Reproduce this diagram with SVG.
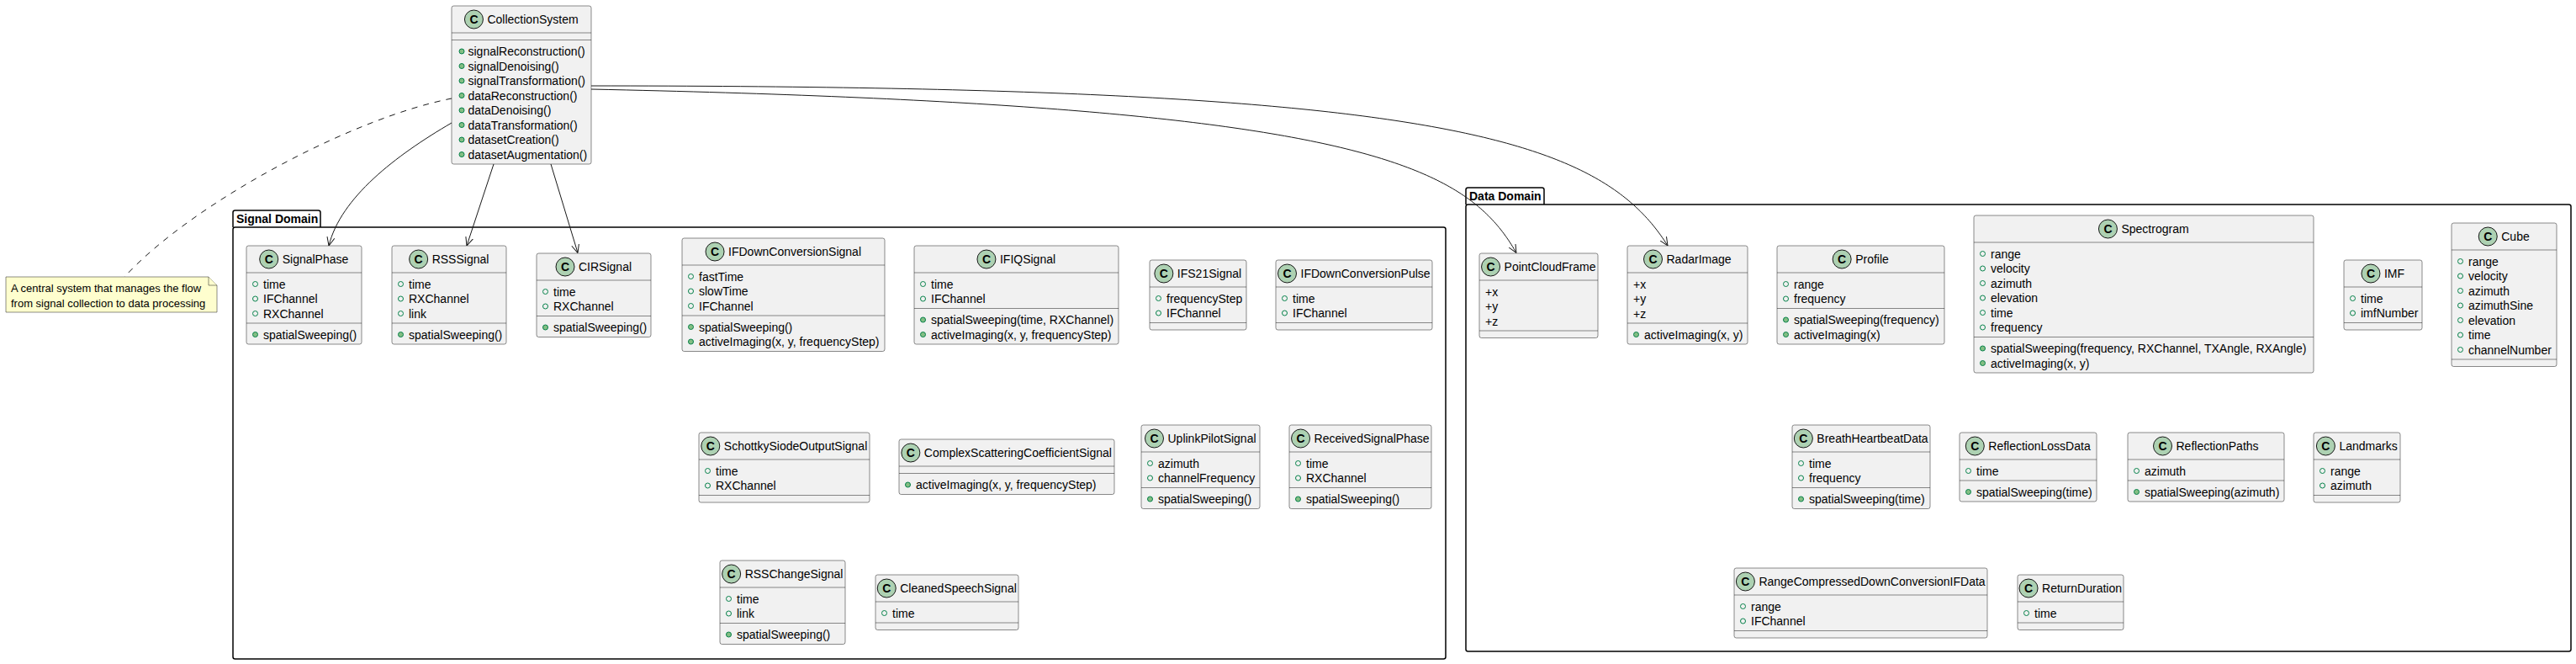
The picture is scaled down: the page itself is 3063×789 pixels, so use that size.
<svg xmlns="http://www.w3.org/2000/svg" width="3063" height="789" viewBox="0 0 3063 789">
<defs>
<style>
text{font-family:"Liberation Sans",Arial,sans-serif;font-size:14px;fill:#000}
.box{fill:#F1F1F1;stroke:#181818;stroke-width:0.5}
.sep{stroke:#181818;stroke-width:0.5}
.ci{fill:#ADD1B2;stroke:#181818;stroke-width:1}
.cc{font-weight:bold;text-anchor:middle}
.a{fill:none;stroke:#038048;stroke-width:1}
.m{fill:#84BE84;stroke:#038048;stroke-width:1}
.pkg{fill:none;stroke:#000;stroke-width:1.5}
.pl{font-weight:bold}
.edge{fill:none;stroke:#181818;stroke-width:1}
.note{fill:#FEFECE;stroke:#181818;stroke-width:0.5}
.nt{font-size:13px}
</style>
<marker id="arr" viewBox="0 0 10 10" refX="10" refY="5" markerWidth="10" markerHeight="10" markerUnits="userSpaceOnUse" orient="auto">
<path d="M0,0.5 L10,5 L0,9.5" fill="none" stroke="#181818" stroke-width="1"/>
</marker>
</defs>
<rect width="3063" height="789" fill="#FFFFFF"/>

<g id="pkg-signal">
<path class="pkg" d="M277,270 V252.5 Q277,250 279.5,250 H378.5 Q381,250 381,252.5 V270"/>
<rect class="pkg" x="277" y="270" width="1442" height="513" rx="2.5"/>
<text class="pl" x="281" y="265">Signal Domain</text>
</g>
<g id="pkg-data">
<path class="pkg" d="M1743,243 V225.5 Q1743,223 1745.5,223 H1833.5 Q1836,223 1836,225.5 V243"/>
<rect class="pkg" x="1743" y="243" width="1314" height="531" rx="2.5"/>
<text class="pl" x="1747" y="238">Data Domain</text>
</g>

<g id="CollectionSystem">
<rect class="box" x="537" y="7" width="166" height="188" rx="2.5"/>
<circle class="ci" cx="563.45" cy="23" r="11"/><text class="cc" x="563.45" y="28">C</text>
<text x="579.45" y="28">CollectionSystem</text>
<line class="sep" x1="537" y1="39" x2="703" y2="39"/><line class="sep" x1="537" y1="47.5" x2="703" y2="47.5"/>
<circle class="m" cx="549" cy="61" r="3"/><text x="556.5" y="66">signalReconstruction()</text>
<circle class="m" cx="549" cy="78.5" r="3"/><text x="556.5" y="83.5">signalDenoising()</text>
<circle class="m" cx="549" cy="96" r="3"/><text x="556.5" y="101">signalTransformation()</text>
<circle class="m" cx="549" cy="113.5" r="3"/><text x="556.5" y="118.5">dataReconstruction()</text>
<circle class="m" cx="549" cy="131" r="3"/><text x="556.5" y="136">dataDenoising()</text>
<circle class="m" cx="549" cy="148.5" r="3"/><text x="556.5" y="153.5">dataTransformation()</text>
<circle class="m" cx="549" cy="166" r="3"/><text x="556.5" y="171">datasetCreation()</text>
<circle class="m" cx="549" cy="183.5" r="3"/><text x="556.5" y="188.5">datasetAugmentation()</text>
</g>

<g id="note">
<path class="note" d="M7,329 H248 L258,339 V371 H7 Z"/>
<path class="note" d="M248,329 V339 H258"/>
<text class="nt" x="13" y="347">A central system that manages the flow</text>
<text class="nt" x="13" y="364.5">from signal collection to data processing</text>
</g>

<g id="SignalPhase">
<rect class="box" x="293" y="292" width="137" height="117" rx="2.5"/>
<circle class="ci" cx="319.7" cy="308" r="11"/><text class="cc" x="319.7" y="313">C</text>
<text x="335.7" y="313">SignalPhase</text>
<line class="sep" x1="293" y1="324" x2="430" y2="324"/><line class="sep" x1="293" y1="384" x2="430" y2="384"/>
<circle class="a" cx="303.5" cy="337.5" r="3"/><text x="313" y="342.5">time</text>
<circle class="a" cx="303.5" cy="355" r="3"/><text x="313" y="360">IFChannel</text>
<circle class="a" cx="303.5" cy="372.5" r="3"/><text x="313" y="377.5">RXChannel</text>
<circle class="m" cx="303.5" cy="397.5" r="3"/><text x="313" y="402.5">spatialSweeping()</text>
</g>

<g id="RSSSignal">
<rect class="box" x="466" y="292" width="136" height="117" rx="2.5"/>
<circle class="ci" cx="497.65" cy="308" r="11"/><text class="cc" x="497.65" y="313">C</text>
<text x="513.65" y="313">RSSSignal</text>
<line class="sep" x1="466" y1="324" x2="602" y2="324"/><line class="sep" x1="466" y1="384" x2="602" y2="384"/>
<circle class="a" cx="476.5" cy="337.5" r="3"/><text x="486" y="342.5">time</text>
<circle class="a" cx="476.5" cy="355" r="3"/><text x="486" y="360">RXChannel</text>
<circle class="a" cx="476.5" cy="372.5" r="3"/><text x="486" y="377.5">link</text>
<circle class="m" cx="476.5" cy="397.5" r="3"/><text x="486" y="402.5">spatialSweeping()</text>
</g>

<g id="CIRSignal">
<rect class="box" x="638" y="301" width="136" height="99.5" rx="2.5"/>
<circle class="ci" cx="672" cy="317" r="11"/><text class="cc" x="672" y="322">C</text>
<text x="688" y="322">CIRSignal</text>
<line class="sep" x1="638" y1="333" x2="774" y2="333"/><line class="sep" x1="638" y1="375.5" x2="774" y2="375.5"/>
<circle class="a" cx="648.5" cy="346.5" r="3"/><text x="658" y="351.5">time</text>
<circle class="a" cx="648.5" cy="364" r="3"/><text x="658" y="369">RXChannel</text>
<circle class="m" cx="648.5" cy="389" r="3"/><text x="658" y="394">spatialSweeping()</text>
</g>

<g id="IFDownConversionSignal">
<rect class="box" x="811" y="283" width="241" height="134.5" rx="2.5"/>
<circle class="ci" cx="850.05" cy="299" r="11"/><text class="cc" x="850.05" y="304">C</text>
<text x="866.05" y="304">IFDownConversionSignal</text>
<line class="sep" x1="811" y1="315" x2="1052" y2="315"/><line class="sep" x1="811" y1="375" x2="1052" y2="375"/>
<circle class="a" cx="821.5" cy="328.5" r="3"/><text x="831" y="333.5">fastTime</text>
<circle class="a" cx="821.5" cy="346" r="3"/><text x="831" y="351">slowTime</text>
<circle class="a" cx="821.5" cy="363.5" r="3"/><text x="831" y="368.5">IFChannel</text>
<circle class="m" cx="821.5" cy="388.5" r="3"/><text x="831" y="393.5">spatialSweeping()</text>
<circle class="m" cx="821.5" cy="406" r="3"/><text x="831" y="411">activeImaging(x, y, frequencyStep)</text>
</g>

<g id="IFIQSignal">
<rect class="box" x="1087" y="292" width="243" height="117" rx="2.5"/>
<circle class="ci" cx="1172.95" cy="308" r="11"/><text class="cc" x="1172.95" y="313">C</text>
<text x="1188.95" y="313">IFIQSignal</text>
<line class="sep" x1="1087" y1="324" x2="1330" y2="324"/><line class="sep" x1="1087" y1="366.5" x2="1330" y2="366.5"/>
<circle class="a" cx="1097.5" cy="337.5" r="3"/><text x="1107" y="342.5">time</text>
<circle class="a" cx="1097.5" cy="355" r="3"/><text x="1107" y="360">IFChannel</text>
<circle class="m" cx="1097.5" cy="380" r="3"/><text x="1107" y="385">spatialSweeping(time, RXChannel)</text>
<circle class="m" cx="1097.5" cy="397.5" r="3"/><text x="1107" y="402.5">activeImaging(x, y, frequencyStep)</text>
</g>

<g id="IFS21Signal">
<rect class="box" x="1367" y="309" width="115" height="83" rx="2.5"/>
<circle class="ci" cx="1383.85" cy="325" r="11"/><text class="cc" x="1383.85" y="330">C</text>
<text x="1399.85" y="330">IFS21Signal</text>
<line class="sep" x1="1367" y1="341" x2="1482" y2="341"/><line class="sep" x1="1367" y1="383.5" x2="1482" y2="383.5"/>
<circle class="a" cx="1377.5" cy="354.5" r="3"/><text x="1387" y="359.5">frequencyStep</text>
<circle class="a" cx="1377.5" cy="372" r="3"/><text x="1387" y="377">IFChannel</text>
</g>

<g id="IFDownConversionPulse">
<rect class="box" x="1517" y="309" width="186" height="83" rx="2.5"/>
<circle class="ci" cx="1530.5" cy="325" r="11"/><text class="cc" x="1530.5" y="330">C</text>
<text x="1546.5" y="330">IFDownConversionPulse</text>
<line class="sep" x1="1517" y1="341" x2="1703" y2="341"/><line class="sep" x1="1517" y1="383.5" x2="1703" y2="383.5"/>
<circle class="a" cx="1527.5" cy="354.5" r="3"/><text x="1537" y="359.5">time</text>
<circle class="a" cx="1527.5" cy="372" r="3"/><text x="1537" y="377">IFChannel</text>
</g>

<g id="SchottkySiodeOutputSignal">
<rect class="box" x="831" y="514" width="203" height="83" rx="2.5"/>
<circle class="ci" cx="844.8" cy="530" r="11"/><text class="cc" x="844.8" y="535">C</text>
<text x="860.8" y="535">SchottkySiodeOutputSignal</text>
<line class="sep" x1="831" y1="546" x2="1034" y2="546"/><line class="sep" x1="831" y1="588.5" x2="1034" y2="588.5"/>
<circle class="a" cx="841.5" cy="559.5" r="3"/><text x="851" y="564.5">time</text>
<circle class="a" cx="841.5" cy="577" r="3"/><text x="851" y="582">RXChannel</text>
</g>

<g id="ComplexScatteringCoefficientSignal">
<rect class="box" x="1069" y="522" width="256" height="65.5" rx="2.5"/>
<circle class="ci" cx="1082.85" cy="538" r="11"/><text class="cc" x="1082.85" y="543">C</text>
<text x="1098.85" y="543">ComplexScatteringCoefficientSignal</text>
<line class="sep" x1="1069" y1="554" x2="1325" y2="554"/><line class="sep" x1="1069" y1="562.5" x2="1325" y2="562.5"/>
<circle class="m" cx="1079.5" cy="576" r="3"/><text x="1089" y="581">activeImaging(x, y, frequencyStep)</text>
</g>

<g id="UplinkPilotSignal">
<rect class="box" x="1357" y="505" width="141" height="99.5" rx="2.5"/>
<circle class="ci" cx="1372.5" cy="521" r="11"/><text class="cc" x="1372.5" y="526">C</text>
<text x="1388.5" y="526">UplinkPilotSignal</text>
<line class="sep" x1="1357" y1="537" x2="1498" y2="537"/><line class="sep" x1="1357" y1="579.5" x2="1498" y2="579.5"/>
<circle class="a" cx="1367.5" cy="550.5" r="3"/><text x="1377" y="555.5">azimuth</text>
<circle class="a" cx="1367.5" cy="568" r="3"/><text x="1377" y="573">channelFrequency</text>
<circle class="m" cx="1367.5" cy="593" r="3"/><text x="1377" y="598">spatialSweeping()</text>
</g>

<g id="ReceivedSignalPhase">
<rect class="box" x="1533" y="505" width="169" height="99.5" rx="2.5"/>
<circle class="ci" cx="1546.55" cy="521" r="11"/><text class="cc" x="1546.55" y="526">C</text>
<text x="1562.55" y="526">ReceivedSignalPhase</text>
<line class="sep" x1="1533" y1="537" x2="1702" y2="537"/><line class="sep" x1="1533" y1="579.5" x2="1702" y2="579.5"/>
<circle class="a" cx="1543.5" cy="550.5" r="3"/><text x="1553" y="555.5">time</text>
<circle class="a" cx="1543.5" cy="568" r="3"/><text x="1553" y="573">RXChannel</text>
<circle class="m" cx="1543.5" cy="593" r="3"/><text x="1553" y="598">spatialSweeping()</text>
</g>

<g id="RSSChangeSignal">
<rect class="box" x="856" y="666" width="149" height="99.5" rx="2.5"/>
<circle class="ci" cx="869.65" cy="682" r="11"/><text class="cc" x="869.65" y="687">C</text>
<text x="885.65" y="687">RSSChangeSignal</text>
<line class="sep" x1="856" y1="698" x2="1005" y2="698"/><line class="sep" x1="856" y1="740.5" x2="1005" y2="740.5"/>
<circle class="a" cx="866.5" cy="711.5" r="3"/><text x="876" y="716.5">time</text>
<circle class="a" cx="866.5" cy="729" r="3"/><text x="876" y="734">link</text>
<circle class="m" cx="866.5" cy="754" r="3"/><text x="876" y="759">spatialSweeping()</text>
</g>

<g id="CleanedSpeechSignal">
<rect class="box" x="1041" y="683" width="170" height="65.5" rx="2.5"/>
<circle class="ci" cx="1054.25" cy="699" r="11"/><text class="cc" x="1054.25" y="704">C</text>
<text x="1070.25" y="704">CleanedSpeechSignal</text>
<line class="sep" x1="1041" y1="715" x2="1211" y2="715"/><line class="sep" x1="1041" y1="740" x2="1211" y2="740"/>
<circle class="a" cx="1051.5" cy="728.5" r="3"/><text x="1061" y="733.5">time</text>
</g>

<g id="PointCloudFrame">
<rect class="box" x="1759" y="301" width="141" height="100.5" rx="2.5"/>
<circle class="ci" cx="1772.55" cy="317" r="11"/><text class="cc" x="1772.55" y="322">C</text>
<text x="1788.55" y="322">PointCloudFrame</text>
<line class="sep" x1="1759" y1="333" x2="1900" y2="333"/><line class="sep" x1="1759" y1="393" x2="1900" y2="393"/>
<text x="1766" y="351.5">+x</text>
<text x="1766" y="369">+y</text>
<text x="1766" y="386.5">+z</text>
</g>

<g id="RadarImage">
<rect class="box" x="1935" y="292" width="143" height="117" rx="2.5"/>
<circle class="ci" cx="1965.5" cy="308" r="11"/><text class="cc" x="1965.5" y="313">C</text>
<text x="1981.5" y="313">RadarImage</text>
<line class="sep" x1="1935" y1="324" x2="2078" y2="324"/><line class="sep" x1="1935" y1="384" x2="2078" y2="384"/>
<text x="1942" y="342.5">+x</text>
<text x="1942" y="360">+y</text>
<text x="1942" y="377.5">+z</text>
<circle class="m" cx="1945.5" cy="397.5" r="3"/><text x="1955" y="402.5">activeImaging(x, y)</text>
</g>

<g id="Profile">
<rect class="box" x="2113" y="292" width="199" height="117" rx="2.5"/>
<circle class="ci" cx="2190.15" cy="308" r="11"/><text class="cc" x="2190.15" y="313">C</text>
<text x="2206.15" y="313">Profile</text>
<line class="sep" x1="2113" y1="324" x2="2312" y2="324"/><line class="sep" x1="2113" y1="366.5" x2="2312" y2="366.5"/>
<circle class="a" cx="2123.5" cy="337.5" r="3"/><text x="2133" y="342.5">range</text>
<circle class="a" cx="2123.5" cy="355" r="3"/><text x="2133" y="360">frequency</text>
<circle class="m" cx="2123.5" cy="380" r="3"/><text x="2133" y="385">spatialSweeping(frequency)</text>
<circle class="m" cx="2123.5" cy="397.5" r="3"/><text x="2133" y="402.5">activeImaging(x)</text>
</g>

<g id="Spectrogram">
<rect class="box" x="2347" y="256" width="404" height="187" rx="2.5"/>
<circle class="ci" cx="2506.45" cy="272" r="11"/><text class="cc" x="2506.45" y="277">C</text>
<text x="2522.45" y="277">Spectrogram</text>
<line class="sep" x1="2347" y1="288" x2="2751" y2="288"/><line class="sep" x1="2347" y1="400.5" x2="2751" y2="400.5"/>
<circle class="a" cx="2357.5" cy="301.5" r="3"/><text x="2367" y="306.5">range</text>
<circle class="a" cx="2357.5" cy="319" r="3"/><text x="2367" y="324">velocity</text>
<circle class="a" cx="2357.5" cy="336.5" r="3"/><text x="2367" y="341.5">azimuth</text>
<circle class="a" cx="2357.5" cy="354" r="3"/><text x="2367" y="359">elevation</text>
<circle class="a" cx="2357.5" cy="371.5" r="3"/><text x="2367" y="376.5">time</text>
<circle class="a" cx="2357.5" cy="389" r="3"/><text x="2367" y="394">frequency</text>
<circle class="m" cx="2357.5" cy="414" r="3"/><text x="2367" y="419">spatialSweeping(frequency, RXChannel, TXAngle, RXAngle)</text>
<circle class="m" cx="2357.5" cy="431.5" r="3"/><text x="2367" y="436.5">activeImaging(x, y)</text>
</g>

<g id="IMF">
<rect class="box" x="2787" y="309" width="93" height="83" rx="2.5"/>
<circle class="ci" cx="2818.95" cy="325" r="11"/><text class="cc" x="2818.95" y="330">C</text>
<text x="2834.95" y="330">IMF</text>
<line class="sep" x1="2787" y1="341" x2="2880" y2="341"/><line class="sep" x1="2787" y1="383.5" x2="2880" y2="383.5"/>
<circle class="a" cx="2797.5" cy="354.5" r="3"/><text x="2807" y="359.5">time</text>
<circle class="a" cx="2797.5" cy="372" r="3"/><text x="2807" y="377">imfNumber</text>
</g>

<g id="Cube">
<rect class="box" x="2915" y="265" width="125" height="170.5" rx="2.5"/>
<circle class="ci" cx="2958.25" cy="281" r="11"/><text class="cc" x="2958.25" y="286">C</text>
<text x="2974.25" y="286">Cube</text>
<line class="sep" x1="2915" y1="297" x2="3040" y2="297"/><line class="sep" x1="2915" y1="427" x2="3040" y2="427"/>
<circle class="a" cx="2925.5" cy="310.5" r="3"/><text x="2935" y="315.5">range</text>
<circle class="a" cx="2925.5" cy="328" r="3"/><text x="2935" y="333">velocity</text>
<circle class="a" cx="2925.5" cy="345.5" r="3"/><text x="2935" y="350.5">azimuth</text>
<circle class="a" cx="2925.5" cy="363" r="3"/><text x="2935" y="368">azimuthSine</text>
<circle class="a" cx="2925.5" cy="380.5" r="3"/><text x="2935" y="385.5">elevation</text>
<circle class="a" cx="2925.5" cy="398" r="3"/><text x="2935" y="403">time</text>
<circle class="a" cx="2925.5" cy="415.5" r="3"/><text x="2935" y="420.5">channelNumber</text>
</g>

<g id="BreathHeartbeatData">
<rect class="box" x="2131" y="505" width="164" height="99.5" rx="2.5"/>
<circle class="ci" cx="2144.35" cy="521" r="11"/><text class="cc" x="2144.35" y="526">C</text>
<text x="2160.35" y="526">BreathHeartbeatData</text>
<line class="sep" x1="2131" y1="537" x2="2295" y2="537"/><line class="sep" x1="2131" y1="579.5" x2="2295" y2="579.5"/>
<circle class="a" cx="2141.5" cy="550.5" r="3"/><text x="2151" y="555.5">time</text>
<circle class="a" cx="2141.5" cy="568" r="3"/><text x="2151" y="573">frequency</text>
<circle class="m" cx="2141.5" cy="593" r="3"/><text x="2151" y="598">spatialSweeping(time)</text>
</g>

<g id="ReflectionLossData">
<rect class="box" x="2330" y="514" width="163" height="82" rx="2.5"/>
<circle class="ci" cx="2348.3" cy="530" r="11"/><text class="cc" x="2348.3" y="535">C</text>
<text x="2364.3" y="535">ReflectionLossData</text>
<line class="sep" x1="2330" y1="546" x2="2493" y2="546"/><line class="sep" x1="2330" y1="571" x2="2493" y2="571"/>
<circle class="a" cx="2340.5" cy="559.5" r="3"/><text x="2350" y="564.5">time</text>
<circle class="m" cx="2340.5" cy="584.5" r="3"/><text x="2350" y="589.5">spatialSweeping(time)</text>
</g>

<g id="ReflectionPaths">
<rect class="box" x="2530" y="514" width="186" height="82" rx="2.5"/>
<circle class="ci" cx="2571.5" cy="530" r="11"/><text class="cc" x="2571.5" y="535">C</text>
<text x="2587.5" y="535">ReflectionPaths</text>
<line class="sep" x1="2530" y1="546" x2="2716" y2="546"/><line class="sep" x1="2530" y1="571" x2="2716" y2="571"/>
<circle class="a" cx="2540.5" cy="559.5" r="3"/><text x="2550" y="564.5">azimuth</text>
<circle class="m" cx="2540.5" cy="584.5" r="3"/><text x="2550" y="589.5">spatialSweeping(azimuth)</text>
</g>

<g id="Landmarks">
<rect class="box" x="2751" y="514" width="103" height="83" rx="2.5"/>
<circle class="ci" cx="2765.4" cy="530" r="11"/><text class="cc" x="2765.4" y="535">C</text>
<text x="2781.4" y="535">Landmarks</text>
<line class="sep" x1="2751" y1="546" x2="2854" y2="546"/><line class="sep" x1="2751" y1="588.5" x2="2854" y2="588.5"/>
<circle class="a" cx="2761.5" cy="559.5" r="3"/><text x="2771" y="564.5">range</text>
<circle class="a" cx="2761.5" cy="577" r="3"/><text x="2771" y="582">azimuth</text>
</g>

<g id="RangeCompressedDownConversionIFData">
<rect class="box" x="2062" y="675" width="301" height="83" rx="2.5"/>
<circle class="ci" cx="2075.4" cy="691" r="11"/><text class="cc" x="2075.4" y="696">C</text>
<text x="2091.4" y="696">RangeCompressedDownConversionIFData</text>
<line class="sep" x1="2062" y1="707" x2="2363" y2="707"/><line class="sep" x1="2062" y1="749.5" x2="2363" y2="749.5"/>
<circle class="a" cx="2072.5" cy="720.5" r="3"/><text x="2082" y="725.5">range</text>
<circle class="a" cx="2072.5" cy="738" r="3"/><text x="2082" y="743">IFChannel</text>
</g>

<g id="ReturnDuration">
<rect class="box" x="2399" y="683" width="126" height="65.5" rx="2.5"/>
<circle class="ci" cx="2412.05" cy="699" r="11"/><text class="cc" x="2412.05" y="704">C</text>
<text x="2428.05" y="704">ReturnDuration</text>
<line class="sep" x1="2399" y1="715" x2="2525" y2="715"/><line class="sep" x1="2399" y1="740" x2="2525" y2="740"/>
<circle class="a" cx="2409.5" cy="728.5" r="3"/><text x="2419" y="733.5">time</text>
</g>

<g id="connectors">
<path class="edge" d="M537,146 C470,185 405,235 391,292" marker-end="url(#arr)"/>
<path class="edge" d="M587,195 L555,292" marker-end="url(#arr)"/>
<path class="edge" d="M655,195 L687,300.5" marker-end="url(#arr)"/>
<path class="edge" d="M703,106 C1600,125 1740,190 1803,300.5" marker-end="url(#arr)"/>
<path class="edge" d="M703,102 C1700,102 1900,160 1983,292" marker-end="url(#arr)"/>
<path class="edge" d="M537,117 C420,140 230,240 148,329" stroke-dasharray="7,7"/>
</g>
</svg>
